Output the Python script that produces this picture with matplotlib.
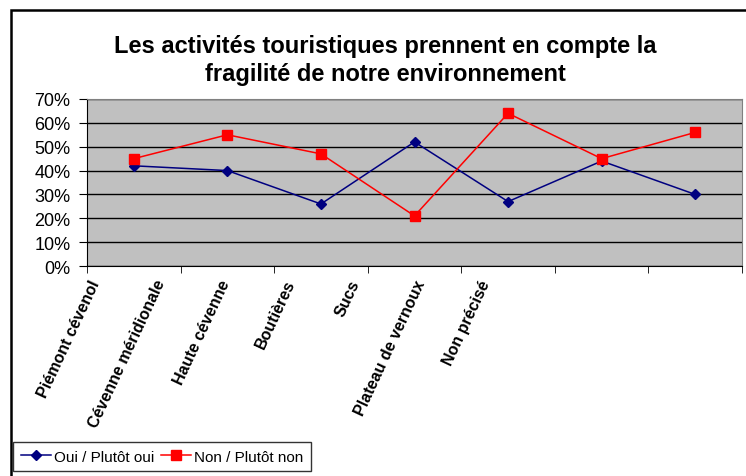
import matplotlib
matplotlib.use('Agg')
import matplotlib.pyplot as plt
import matplotlib.transforms as mtransforms
from matplotlib.patches import Rectangle
import numpy as np

plt.rcParams['font.family'] = ['Liberation Sans', 'DejaVu Sans']

categories = ['Piémont cévenol', 'Cévenne méridionale', 'Haute cévenne', 'Boutières',
              'Sucs', 'Plateau de vernoux', 'Non précisé']
oui = [0.42, 0.40, 0.26, 0.52, 0.27, 0.44, 0.30]
non = [0.45, 0.55, 0.47, 0.21, 0.64, 0.45, 0.56]
yticks = [0, 0.1, 0.2, 0.3, 0.4, 0.5, 0.6, 0.7]
ytick_labels = ['0%', '10%', '20%', '30%', '40%', '50%', '60%', '70%']

fig = plt.figure(figsize=(7.46, 4.77), dpi=100)
W, H = 746, 477

# outer chart frame (extends past right/bottom edges)
fig.patches.append(Rectangle((11 / W, -0.1), 1.1, 1 - 11 / H + 0.1,
                             transform=fig.transFigure, fill=False,
                             edgecolor='black', lw=1.8, zorder=0))

ax = fig.add_axes([87 / W, 1 - 267 / H, (742 - 87) / W, (267 - 100) / H])
ax.set_facecolor('#C0C0C0')

x = np.arange(len(categories))
ax.plot(x, oui, color='#000080', marker='D', markersize=5.5, lw=1.1, label='Oui / Plutôt oui')
ax.plot(x, non, color='#FF0000', marker='s', markersize=7, lw=1.1, label='Non / Plutôt non')

ax.set_xlim(-0.5, len(categories) - 0.5)
ax.set_ylim(0, 0.7)
ax.set_yticks(yticks)
ax.set_yticklabels(ytick_labels, fontsize=13)
ax.yaxis.grid(True, color='black', lw=1)
ax.set_axisbelow(True)

ax.set_xticks(x)
ax.set_xticklabels(categories, rotation=65, ha='right', rotation_mode='anchor',
                   fontsize=11.5, fontweight='bold')
ax.tick_params(axis='x', length=0, pad=8)
ax.set_xticks(np.arange(-0.5, len(categories)), minor=True)
ax.tick_params(axis='x', which='minor', length=5, direction='out')
ax.tick_params(axis='y', length=6, direction='out', pad=6)

# the original's rotated labels are packed tighter than the categories
for i, lab in enumerate(ax.get_xticklabels()):
    shift = (-45 - 28.5 * i) / 100
    lab.set_transform(lab.get_transform() +
                      mtransforms.ScaledTranslation(shift, 0, fig.dpi_scale_trans))

for s in ['top', 'right']:
    ax.spines[s].set_color('#808080')
for s in ['left', 'bottom']:
    ax.spines[s].set_color('black')

fig.text(385 / W, 1 - 46 / H, 'Les activités touristiques prennent en compte la',
         ha='center', va='center', fontsize=17, fontweight='bold')
fig.text(385 / W, 1 - 75 / H, 'fragilité de notre environnement',
         ha='center', va='center', fontsize=17, fontweight='bold')

leg = fig.legend(loc='upper left', bbox_to_anchor=(13 / W, 1 - 443 / H), ncol=2,
                 fontsize=11, frameon=True, fancybox=False, edgecolor='black',
                 handlelength=2.0, handletextpad=0.2, columnspacing=0.4,
                 borderpad=0.5, borderaxespad=0)
leg.get_frame().set_linewidth(1)

fig.savefig('out.png', dpi=100)
